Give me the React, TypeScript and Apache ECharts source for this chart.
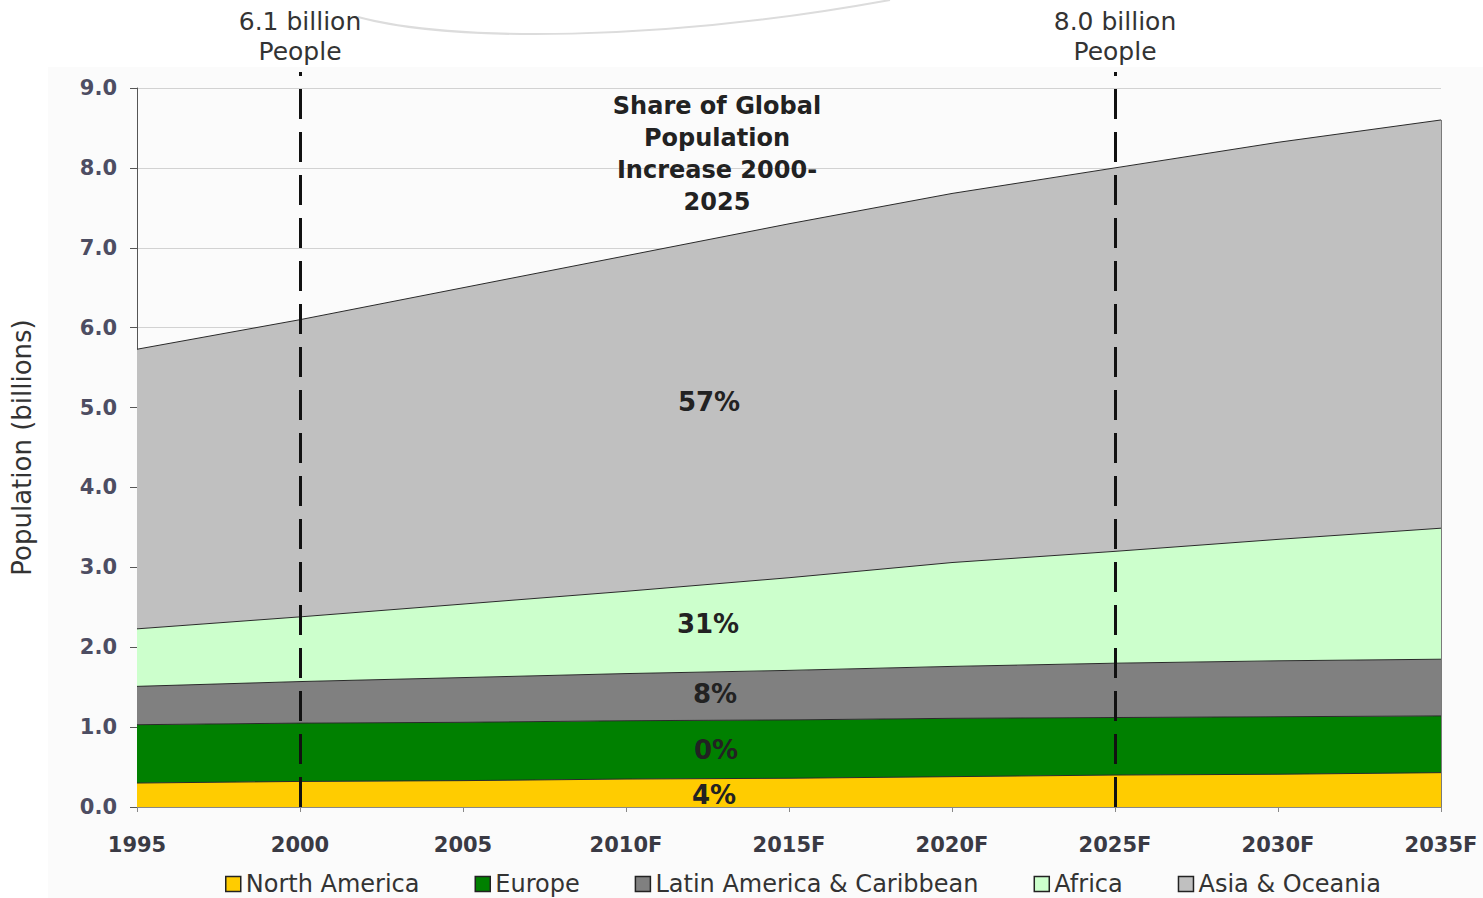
import { useEffect, useRef } from "react";
import * as echarts from "echarts";

const years = ["1995", "2000", "2005", "2010F", "2015F", "2020F", "2025F", "2030F", "2035F"];
const northAmerica = [0.30, 0.32, 0.33, 0.35, 0.36, 0.38, 0.40, 0.41, 0.43];
const europe = [0.73, 0.73, 0.73, 0.73, 0.73, 0.73, 0.72, 0.72, 0.71];
const latinAmerica = [0.48, 0.52, 0.56, 0.59, 0.62, 0.65, 0.68, 0.70, 0.71];
const africa = [0.72, 0.81, 0.92, 1.03, 1.16, 1.30, 1.40, 1.52, 1.64];
const asiaOceania = [3.50, 3.72, 3.96, 4.20, 4.43, 4.62, 4.80, 4.97, 5.11];

const seriesNames = ["North America", "Europe", "Latin America & Caribbean", "Africa", "Asia & Oceania"];
const seriesColors = ["#FFCC00", "#008000", "#808080", "#CCFFCC", "#C0C0C0"];
const seriesValues = [northAmerica, europe, latinAmerica, africa, asiaOceania];

const shareLabels = ["4%", "0%", "8%", "31%", "57%"];
const milestoneYears = ["2000", "2025F"];
const milestoneLabels = ["6.1 billion\nPeople", "8.0 billion\nPeople"];
const titleText = "Share of Global\nPopulation\nIncrease 2000-\n2025";

const FONT = "DejaVu Sans";

export default function App() {
  const ref = useRef<HTMLDivElement>(null);

  useEffect(() => {
    document.body.style.margin = "0";
    document.body.style.overflow = "hidden";
    if (!ref.current) return;
    const chart = echarts.init(ref.current, null, { renderer: "svg" });

    // positions of the share labels (annotation text) in pixels
    const sharePos = [
      { x: 714, y: 795 },
      { x: 716, y: 750 },
      { x: 715, y: 694 },
      { x: 708, y: 624 },
      { x: 709, y: 402 },
    ];

    const lastIdx = years.length - 1;
    const lastTotal = seriesValues.reduce((s, arr) => s + arr[lastIdx], 0);

    const series: any[] = seriesValues.map((vals, i) => ({
      name: seriesNames[i],
      type: "line",
      stack: "total",
      data: vals,
      showSymbol: false,
      symbol: "none",
      lineStyle: { color: "#2a2a2a", width: 1 },
      itemStyle: { color: seriesColors[i] },
      areaStyle: { color: seriesColors[i], opacity: 1 },
      silent: true,
      z: 2,
      ...(i === seriesValues.length - 1
        ? {
            markLine: {
              silent: true,
              symbol: "none",
              label: { show: false },
              lineStyle: { color: "#7a7a7a", width: 1, type: "solid" },
              data: [[{ coord: [years[lastIdx], 0] }, { coord: [years[lastIdx], lastTotal] }]],
            },
          }
        : {}),
    }));

    series.push({
      name: "milestones",
      type: "line",
      xAxisIndex: 1,
      yAxisIndex: 1,
      data: [],
      silent: true,
      z: 5,
      markLine: {
        silent: true,
        symbol: "none",
        lineStyle: { color: "#111", width: 3, type: [30, 13], dashOffset: 0 },
        label: {
          show: true,
          position: "end",
          distance: 6,
          formatter: (p: any) => milestoneLabels[milestoneYears.indexOf(p.data.xAxis)] ?? "",
          fontFamily: FONT,
          fontSize: 25,
          lineHeight: 30,
          color: "#333",
          align: "center",
        },
        data: milestoneYears.map((y) => ({ xAxis: y })),
      },
    });

    const graphic: any[] = [
      {
        type: "rect",
        z: -100,
        silent: true,
        shape: { x: 48, y: 67, width: 1483 - 48, height: 898 - 67 },
        style: { fill: "#fbfbfb" },
      },
      {
        type: "bezierCurve",
        z: -90,
        silent: true,
        shape: { x1: 358, y1: 17, cpx1: 450, cpy1: 42, cpx2: 660, cpy2: 42, x2: 890, y2: 0 },
        style: { stroke: "#dcdcdc", lineWidth: 2, fill: "none" },
      },
      {
        type: "text",
        z: 50,
        silent: true,
        x: 717,
        y: 90,
        style: {
          text: titleText,
          fontFamily: FONT,
          fontWeight: "bold",
          fontSize: 24,
          lineHeight: 32,
          fill: "#222",
          align: "center",
          verticalAlign: "top",
        },
      },
      ...shareLabels.map((t, i) => ({
        type: "text",
        z: 50,
        silent: true,
        x: sharePos[i].x,
        y: sharePos[i].y,
        style: {
          text: t,
          fontFamily: FONT,
          fontWeight: "bold",
          fontSize: 26,
          fill: "#222",
          align: "center",
          verticalAlign: "middle",
        },
      })),
    ];

    chart.setOption({
      animation: false,
      backgroundColor: "#ffffff",
      textStyle: { fontFamily: FONT },
      grid: [
        { left: 137, right: 42, top: 88, bottom: 91 },
        { left: 137, right: 42, top: 72, bottom: 91 },
      ],
      legend: {
        data: seriesNames,
        left: 225,
        top: 872,
        padding: 0,
        icon: "rect",
        itemWidth: 15,
        itemHeight: 15,
        itemGap: 55,
        itemStyle: { borderColor: "#222", borderWidth: 1.5 },
        textStyle: { fontFamily: FONT, fontSize: 24, color: "#333", lineHeight: 24 },
        selectedMode: false,
      },
      xAxis: [
        {
          type: "category",
          gridIndex: 0,
          data: years,
          boundaryGap: false,
          axisLine: { show: true, lineStyle: { color: "#888" } },
          axisTick: { show: true, length: 5, lineStyle: { color: "#888" } },
          axisLabel: {
            fontFamily: FONT,
            fontSize: 21,
            fontWeight: "bold",
            color: "#3a3a44",
            margin: 27,
          },
          splitLine: { show: false },
        },
        {
          type: "category",
          gridIndex: 1,
          data: years,
          boundaryGap: false,
          show: false,
        },
      ],
      yAxis: [
        {
          type: "value",
          gridIndex: 0,
          min: 0,
          max: 9,
          interval: 1,
          name: "Population (billions)",
          nameLocation: "middle",
          nameGap: 102,
          nameTextStyle: { fontFamily: FONT, fontSize: 26, color: "#333" },
          axisLine: { show: true, lineStyle: { color: "#555" } },
          axisTick: { show: true, length: 7, lineStyle: { color: "#555" } },
          axisLabel: {
            formatter: (v: number) => v.toFixed(1),
            fontFamily: FONT,
            fontSize: 21,
            fontWeight: "bold",
            color: "#4d4d62",
            margin: 20,
          },
          splitLine: { show: true, lineStyle: { color: "#d2d2d2", width: 1 } },
        },
        {
          type: "value",
          gridIndex: 1,
          min: 0,
          max: 1,
          show: false,
          splitLine: { show: false },
        },
      ],
      series,
      graphic,
    });

    return () => {
      chart.dispose();
    };
  }, []);

  return <div ref={ref} style={{ width: 1483, height: 898 }} />;
}
